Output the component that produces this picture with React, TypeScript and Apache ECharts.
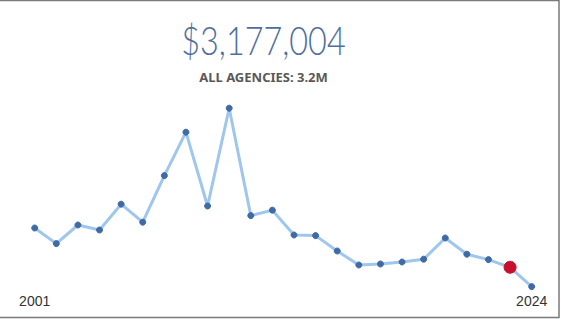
import React, { useEffect, useRef } from "react";
import * as echarts from "echarts";

const years: string[] = [
  "2001", "2002", "2003", "2004", "2005", "2006", "2007", "2008",
  "2009", "2010", "2011", "2012", "2013", "2014", "2015", "2016",
  "2017", "2018", "2019", "2020", "2021", "2022", "2023", "2024",
];
// spending in millions of dollars (estimated)
const spending: number[] = [
  5.14, 4.36, 5.29, 5.04, 6.33, 5.43, 7.76, 9.93,
  6.24, 11.13, 5.76, 6.03, 4.79, 4.76, 3.99, 3.29,
  3.34, 3.44, 3.58, 4.64, 3.83, 3.56, 3.177, 2.21,
];
const highlightYear = "2023";
const titleText = "$3,177,004";
const subtitleText = "ALL AGENCIES: 3.2M";

export default function App() {
  const ref = useRef<HTMLDivElement>(null);
  useEffect(() => {
    if (!ref.current) return;
    const chart = echarts.init(ref.current, undefined, { renderer: "svg" });
    const data = spending.map((v, i) =>
      years[i] === highlightYear
        ? {
            value: v,
            symbolSize: 12,
            itemStyle: { color: "#c8102e", borderColor: "#c8102e" },
          }
        : { value: v }
    );
    chart.setOption({
      animation: false,
      grid: { left: 34.7, right: 29.3, top: 90.8, bottom: 28.2 },
      xAxis: {
        type: "category",
        data: years,
        boundaryGap: false,
        axisLine: { show: false },
        axisTick: { show: false },
        splitLine: { show: false },
        axisLabel: {
          interval: (idx: number) => idx === 0 || idx === years.length - 1,
          color: "#333",
          fontFamily: "Liberation Sans, Arial, sans-serif",
          fontSize: 14,
          margin: 3,
        },
      },
      yAxis: {
        type: "value",
        min: 2,
        max: 12,
        show: false,
      },
      series: [
        {
          type: "line",
          data,
          symbol: "circle",
          symbolSize: 6,
          showAllSymbol: true,
          lineStyle: { color: "#9fc6ec", width: 3 },
          itemStyle: { color: "#3f6aa6", borderColor: "#3f6aa6" },
          z: 2,
        },
      ],
      graphic: [
        {
          type: "rect",
          shape: { x: -2, y: 0.5, width: 561, height: 317 },
          style: { fill: "none", stroke: "#7a7a7a", lineWidth: 1.5 },
          silent: true,
        },
        {
          type: "text",
          x: 263.5,
          y: 40,
          scaleX: 0.83,
          style: {
            text: titleText,
            fill: "#4d6e9e",
            font: "300 39px Lato, 'Open Sans', sans-serif",
            textAlign: "center",
            textVerticalAlign: "middle",
          },
        },
        {
          type: "text",
          x: 263.5,
          y: 76.5,
          style: {
            text: subtitleText,
            fill: "#5c5856",
            font: "bold 13px 'Noto Sans', Lato, sans-serif",
            textAlign: "center",
            textVerticalAlign: "middle",
          },
        },
      ],
    });
    return () => chart.dispose();
  }, []);
  return (
    <div
      ref={ref}
      style={{ position: "absolute", left: 0, top: 0, width: 561, height: 319, background: "#fff" }}
    />
  );
}
